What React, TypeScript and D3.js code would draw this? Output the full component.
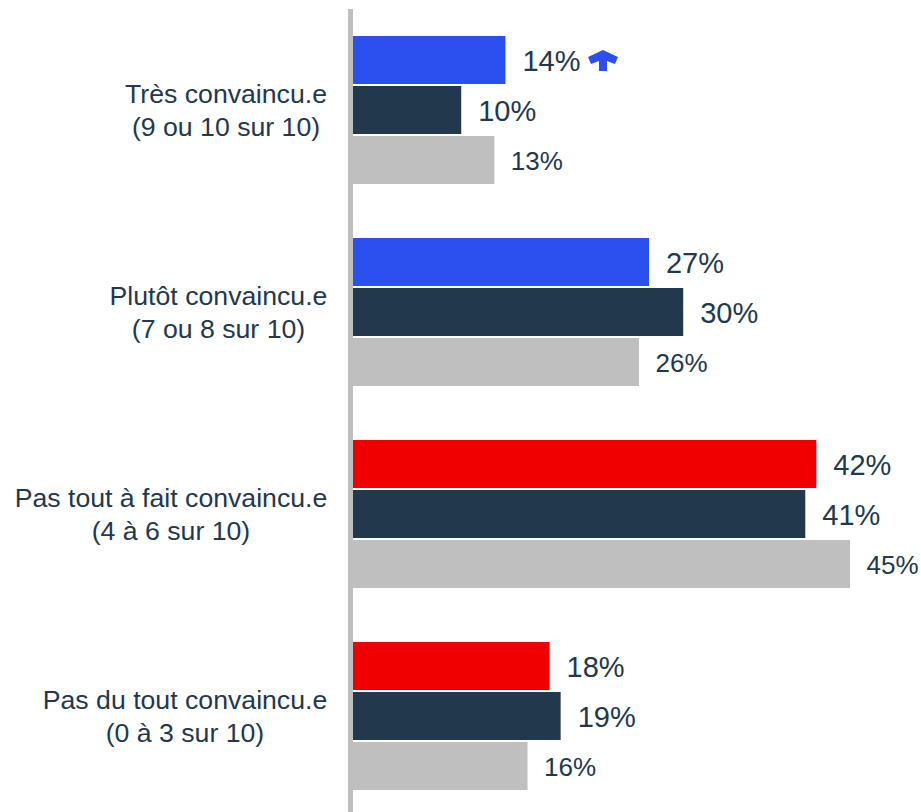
import React from "react";
import * as d3 from "d3";

const categories = ["Très convaincu.e", "Plutôt convaincu.e", "Pas tout à fait convaincu.e", "Pas du tout convaincu.e"];
const subLabels = ["(9 ou 10 sur 10)", "(7 ou 8 sur 10)", "(4 à 6 sur 10)", "(0 à 3 sur 10)"];
const seriesKeys = ["current", "previous", "reference"];
const currentValues = [13.8, 26.8, 41.95, 17.8];
const previousValues = [9.8, 29.9, 40.95, 18.8];
const referenceValues = [12.8, 25.9, 45.0, 15.8];
const currentLabels = ["14%", "27%", "42%", "18%"];
const previousLabels = ["10%", "30%", "41%", "19%"];
const referenceLabels = ["13%", "26%", "45%", "16%"];
const currentColors = ["#2b50f0", "#2b50f0", "#f00000", "#f00000"];
const navy = "#22384d";
const gray = "#bfbfbf";

const x = d3.scaleLinear().domain([0, 45]).range([353, 850]);
const y = d3.scaleBand().domain(categories).range([36, 844]);
const sub = d3.scaleBand().domain(seriesKeys).range([0, 150]);
const barH = 48;

const labelCx = [226, 218.5, 171, 185];

export default function App() {
  const rows = [
    { key: "current", values: currentValues, labels: currentLabels, size: 29, gap: 17 },
    { key: "previous", values: previousValues, labels: previousLabels, size: 29, gap: 17 },
    { key: "reference", values: referenceValues, labels: referenceLabels, size: 26, gap: 16.5 },
  ];
  return (
    <svg width={921} height={812} style={{ position: "absolute", left: 0, top: 0, background: "#fff" }}
      fontFamily="'Liberation Sans', Arial, sans-serif">
      {categories.map((c, i) => (
        <g key={c}>
          {rows.map((r) => {
            const by = y(c)! + sub(r.key)!;
            const fill = r.key === "current" ? currentColors[i] : r.key === "previous" ? navy : gray;
            const x0 = r.key === "reference" ? 348 : x(0);
            return (
              <g key={r.key}>
                <rect x={x0} y={by} width={x(r.values[i]) - x0} height={barH} fill={fill} />
                <text x={x(r.values[i]) + r.gap} y={by + barH / 2 + r.size * 0.35 + 1} fontSize={r.size} fill={navy}>
                  {r.labels[i]}
                </text>
              </g>
            );
          })}
          <text x={labelCx[i]} y={y(c)! + 67} textAnchor="middle" fontSize={26.67} fill={navy}>{c}</text>
          <text x={labelCx[i]} y={y(c)! + 100} textAnchor="middle" fontSize={26.67} fill={navy}>{subLabels[i]}</text>
        </g>
      ))}
      <rect x={348} y={9} width={5} height={803} fill={gray} />
      <path d="M588 57 L591 64 L599 61 L599 71 L607 71 L607 61 L615 64 L618 57 L603 50 Z" fill="#2b50f0" />
    </svg>
  );
}
